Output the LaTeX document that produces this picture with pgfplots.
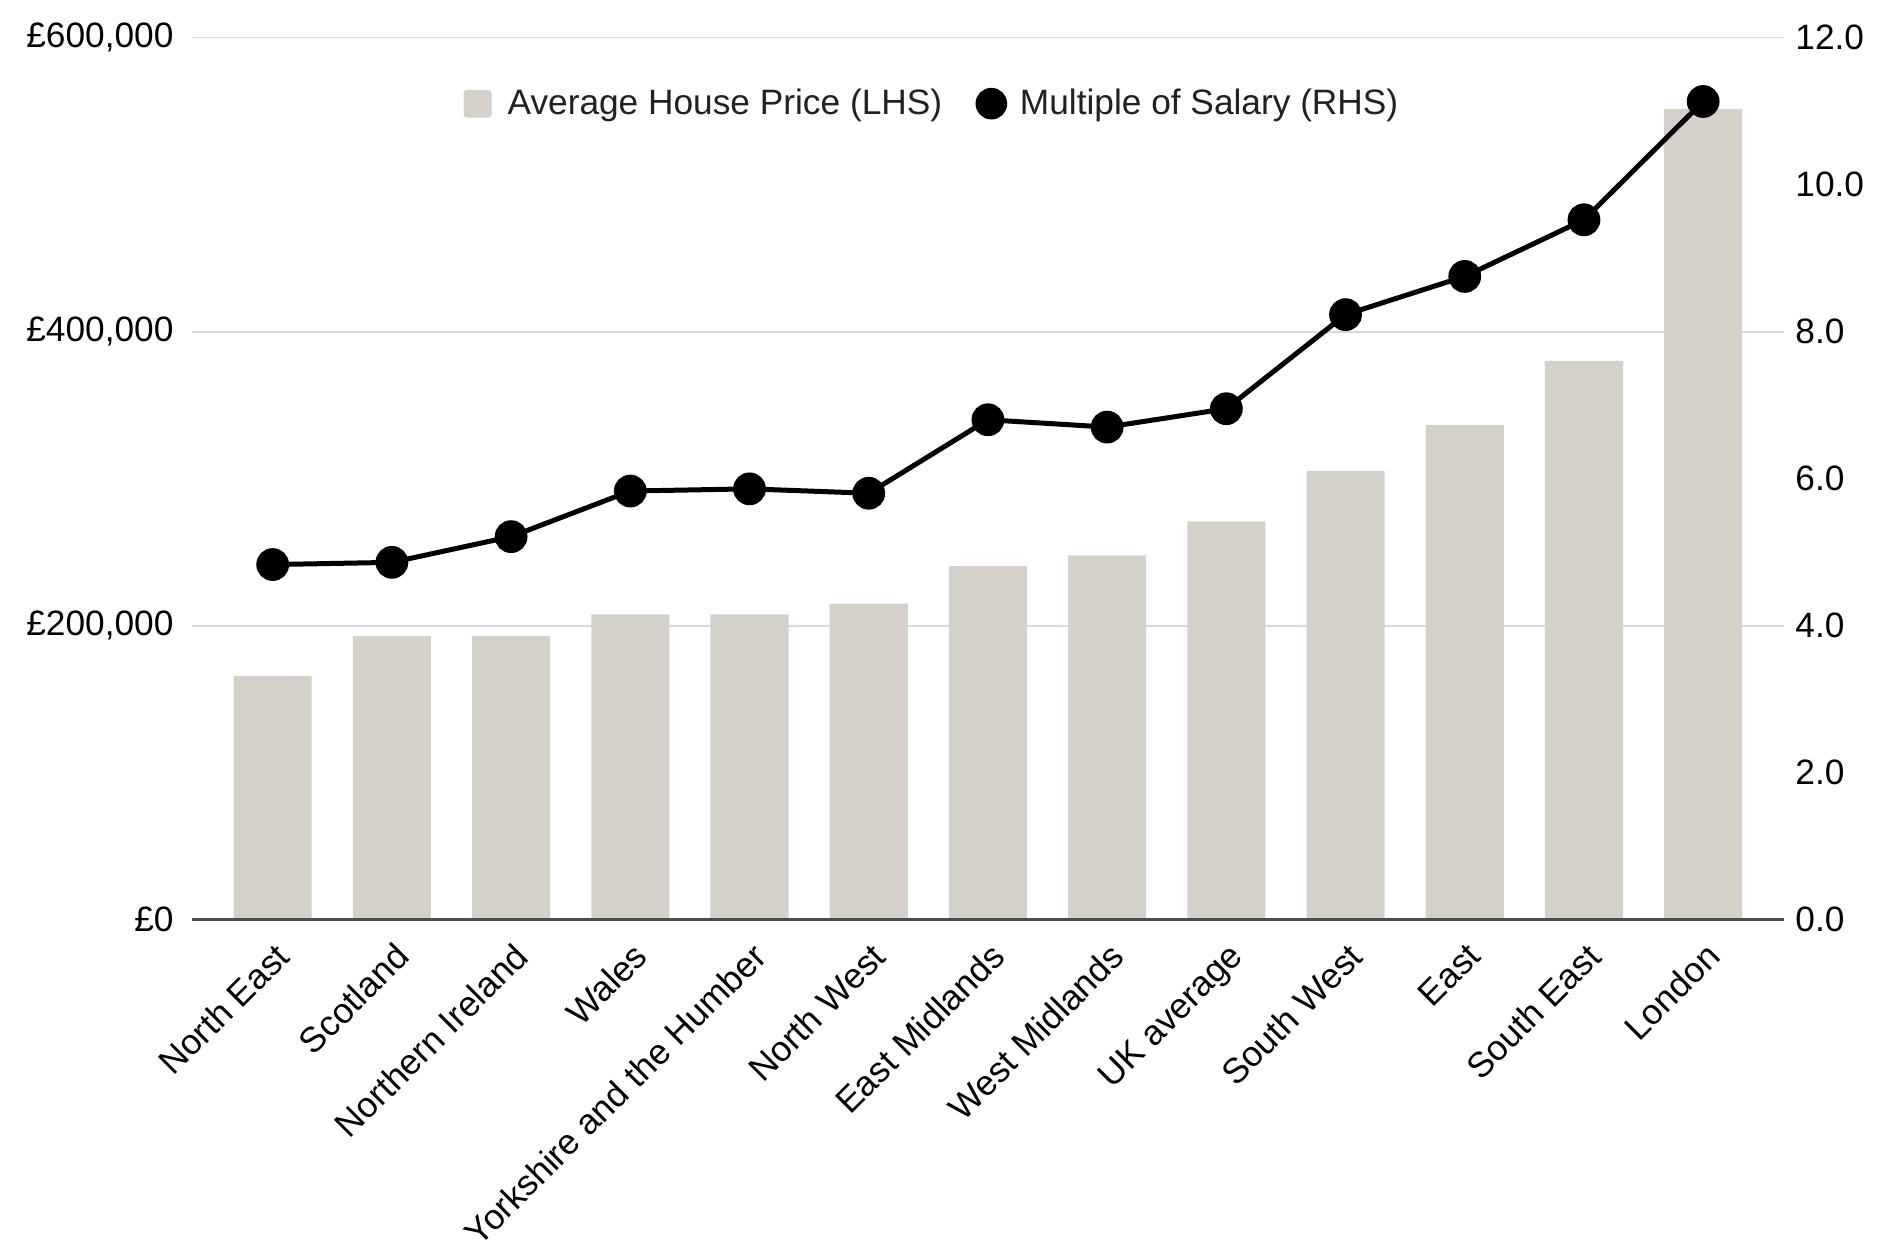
\documentclass[border=0pt]{standalone}
\usepackage{fontspec}
\setmainfont{Liberation Sans}
\usepackage{pgfplots}
\pgfplotsset{compat=1.18}

\definecolor{barcol}{HTML}{D4D1CB}
\definecolor{gridcol}{HTML}{D9D9D9}
\definecolor{basecol}{HTML}{4D4D4D}

\pgfplotstableread{
x price multiple
0  165800 4.83
1  192900 4.86
2  193000 5.21
3  207600 5.83
4  207600 5.86
5  215000 5.80
6  240500 6.80
7  247800 6.70
8  270800 6.95
9  305300 8.23
10 336500 8.75
11 380000 9.52
12 551500 11.13
}\datatable

\begin{document}
\begin{tikzpicture}
\pgfplotsset{
  every axis/.append style={
    at={(0,0)}, anchor=south west,
    scale only axis, width=573.4pt, height=317.6pt,
    xmin=-0.68, xmax=12.68,
    axis line style={draw=none},
    major tick length=0pt,
    tick label style={font=\fontsize{12.7}{15}\selectfont, text=black},
    clip=false,
  },
}
\begin{axis}[
  ymin=0, ymax=600000,
  scaled y ticks=false,
  ytick={0,200000,400000,600000},
  yticklabels={£0,{£200,000},{£400,000},{£600,000}},
  yticklabel style={xshift=-3pt},
  ymajorgrids, grid style={gridcol, line width=0.7pt},
  xtick=data,
  xticklabels={North East,Scotland,Northern Ireland,Wales,Yorkshire and the Humber,North West,East Midlands,West Midlands,UK average,South West,East,South East,London},
  xticklabel style={rotate=45, anchor=north east, inner sep=1pt, xshift=-4pt, yshift=-4.5pt},
]
\addplot[ybar, bar width=0.655, fill=barcol, draw=none, bar shift=0pt] table[x=x, y=price] {\datatable};
\draw[basecol, line width=1.1pt] (rel axis cs:0,0) -- (rel axis cs:1,0);
\end{axis}
\begin{axis}[
  ymin=0, ymax=12,
  ytick={0,2,4,6,8,10,12},
  yticklabels={0.0,2.0,4.0,6.0,8.0,10.0,12.0},
  yticklabel pos=right,
  yticklabel style={xshift=0.5pt},
  xtick=\empty,
  legend columns=2,
  legend style={at={(0.4660,0.925)}, anchor=center, draw=none, fill=none,
    font=\fontsize{12.7}{15}\selectfont, text=black!87,
    /tikz/every even column/.append style={column sep=10pt}},
  legend cell align=left,
]
\addlegendimage{legend image code/.code={\fill[barcol, rounded corners=1pt] (0pt,-4.8pt) rectangle (9.6pt,4.8pt); \path (13.4pt,0pt);}}
\addlegendentry{Average House Price (LHS)}
\addplot[black, line width=1.8pt, mark=*, mark size=5pt,
  legend image code/.code={\fill[black] (4.8pt,0pt) circle (4.8pt); \path (12.2pt,0pt);}]
  table[x=x, y=multiple] {\datatable};
\addlegendentry{Multiple of Salary (RHS)}
\end{axis}
\pgfresetboundingbox
\path[use as bounding box] (-69pt,-122.5pt) rectangle (612.2pt,331.1pt);
\end{tikzpicture}
\end{document}
